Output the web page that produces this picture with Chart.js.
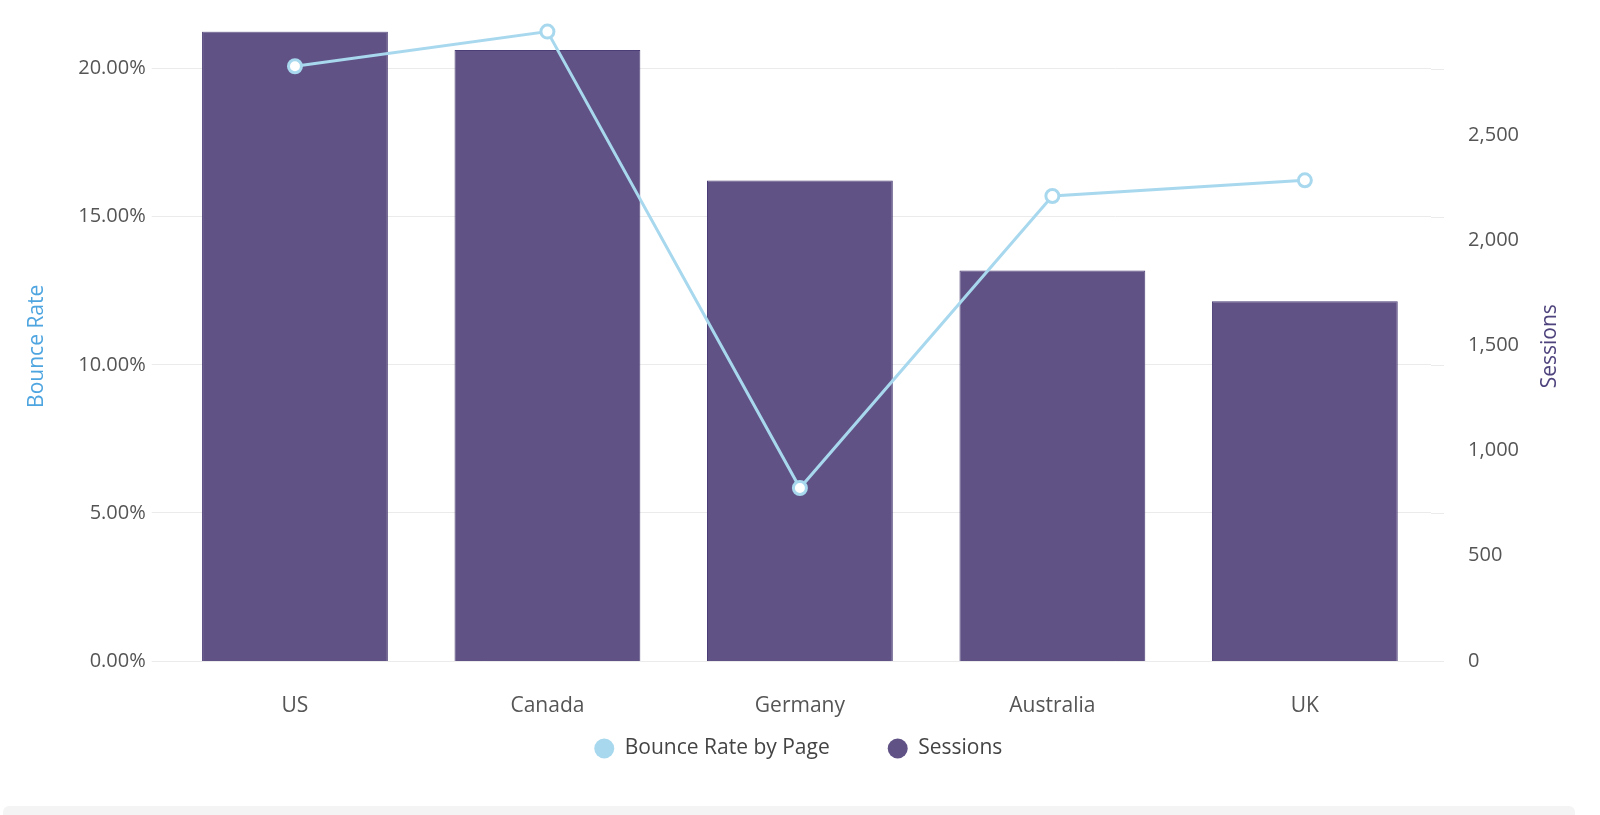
<!DOCTYPE html>
<html>
<head>
<meta charset="utf-8">
<script src="https://cdn.jsdelivr.net/npm/chart.js@4/dist/chart.umd.min.js"></script>
<style>
  body { margin: 0; background: #fff; font-family: "Open Sans", sans-serif; }
  #wrap { position: relative; width: 1600px; height: 808px; }
  #strip { position: absolute; left: 3px; top: 806px; width: 1572px; height: 20px; background: #f4f4f4; border-radius: 6px; }
</style>
</head>
<body>
<div id="wrap"><canvas id="mixChart"></canvas></div>
<div id="strip"></div>
<script>
// chart data
const countries = ['US', 'Canada', 'Germany', 'Australia', 'UK'];
const bounceRate = [20.08, 21.25, 5.84, 15.70, 16.23];
const sessions = [2991, 2904, 2283, 1856, 1710];
const rateTicks = [0, 5, 10, 15, 20];
const sessionTicks = [0, 500, 1000, 1500, 2000, 2500];

const gridColor = '#ebebeb';
const tickColor = '#555555';

Chart.defaults.font.family = '"Open Sans", sans-serif';
Chart.defaults.font.size = 20;

// left gridlines run a little past the right edge of the plot
const gridExtend = {
    id: 'gridExtend',
    beforeDatasetsDraw(chart) {
        const ctx = chart.ctx;
        const y = chart.scales.y;
        const area = chart.chartArea;
        ctx.save();
        ctx.strokeStyle = gridColor;
        ctx.lineWidth = 1;
        y.ticks.forEach(t => {
            const py = Math.round(y.getPixelForValue(t.value)) + 0.5;
            ctx.beginPath();
            ctx.moveTo(area.right, py);
            ctx.lineTo(area.right + 13, py);
            ctx.stroke();
        });
        ctx.restore();
    }
};

// pull the legend up closer to the category labels and recentre it
const legendShift = {
    id: 'legendShift',
    afterLayout(chart) {
        chart.legend.top -= 39;
        chart.legend.bottom -= 39;
        chart.legend.left += 29;
        chart.legend.right += 29;
    }
};

// right axis title reads bottom to top
const rightTitle = {
    id: 'rightTitle',
    afterDraw(chart) {
        const ctx = chart.ctx;
        const area = chart.chartArea;
        ctx.save();
        ctx.translate(chart.width - 50, (area.top + area.bottom) / 2);
        ctx.rotate(-Math.PI / 2);
        ctx.font = '21px "Open Sans"';
        ctx.fillStyle = '#4f437d';
        ctx.textAlign = 'center';
        ctx.textBaseline = 'middle';
        ctx.fillText('Sessions', 0, 0);
        ctx.restore();
    }
};

document.addEventListener('DOMContentLoaded', function () {
    const ctx = document.getElementById('mixChart').getContext('2d');

    new Chart(ctx, {
        data: {
            labels: countries,
            datasets: [{
                type: 'line',
                label: 'Bounce Rate by Page',
                data: bounceRate,
                yAxisID: 'y',
                borderColor: '#a8d8ee',
                backgroundColor: '#a8d8ee',
                borderWidth: 3,
                pointRadius: 6.5,
                pointBorderWidth: 3,
                pointBackgroundColor: '#ffffff',
                pointBorderColor: '#a8d8ee',
                tension: 0,
                clip: false,
                order: 0
            }, {
                type: 'bar',
                label: 'Sessions',
                data: sessions,
                yAxisID: 'y1',
                backgroundColor: '#615285',
                borderColor: '#4b3d75',
                borderWidth: 1,
                barPercentage: 0.92,
                categoryPercentage: 0.8,
                order: 1
            }]
        },
        options: {
            responsive: true,
            maintainAspectRatio: false,
            animation: false,
            layout: { padding: { top: 31.6, bottom: 0, left: 0, right: 61.4 } },
            scales: {
                x: {
                    grid: { display: false, drawTicks: false },
                    border: { display: false },
                    ticks: { color: tickColor, padding: 32, font: { size: 21 } },
                    afterFit(scale) { scale.height = 58; }
                },
                y: {
                    position: 'left',
                    min: 0,
                    max: Math.max(...bounceRate),
                    afterBuildTicks(scale) {
                        scale.ticks = rateTicks.map(v => ({ value: v }));
                    },
                    grid: { color: gridColor, tickLength: 17, tickColor: gridColor },
                    border: { display: false },
                    ticks: {
                        color: tickColor,
                        padding: 6,
                        font: { size: 20 },
                        callback: v => v.toFixed(2) + '%'
                    },
                    title: {
                        display: true,
                        text: 'Bounce Rate',
                        color: '#4ea5e0',
                        font: { size: 21 },
                        padding: { top: 24, bottom: 23 }
                    }
                },
                y1: {
                    position: 'right',
                    min: 0,
                    max: Math.max(...sessions),
                    afterBuildTicks(scale) {
                        scale.ticks = sessionTicks.map(v => ({ value: v }));
                    },
                    grid: { display: false, drawTicks: true, tickLength: 17.4, drawOnChartArea: false },
                    border: { display: false },
                    ticks: {
                        color: tickColor,
                        padding: 19.6,
                        font: { size: 20 },
                        callback: v => v.toLocaleString('en-US')
                    }
                }
            },
            plugins: {
                legend: {
                    position: 'bottom',
                    labels: {
                        usePointStyle: true,
                        pointStyle: 'circle',
                        boxHeight: 14,
                        pointStyleWidth: 20,
                        padding: 58,
                        color: '#444444',
                        font: { family: '"Open Sans", sans-serif', size: 21 },
                        generateLabels(chart) {
                            const items = Chart.defaults.plugins.legend.labels.generateLabels(chart);
                            items.forEach(item => {
                                const ds = chart.data.datasets[item.datasetIndex];
                                item.fillStyle = ds.type === 'line' ? ds.borderColor : ds.backgroundColor;
                                item.strokeStyle = item.fillStyle;
                                item.lineWidth = 0;
                            });
                            return items;
                        }
                    }
                },
                tooltip: { enabled: false }
            }
        },
        plugins: [gridExtend, legendShift, rightTitle]
    });
});
</script>
</body>
</html>
